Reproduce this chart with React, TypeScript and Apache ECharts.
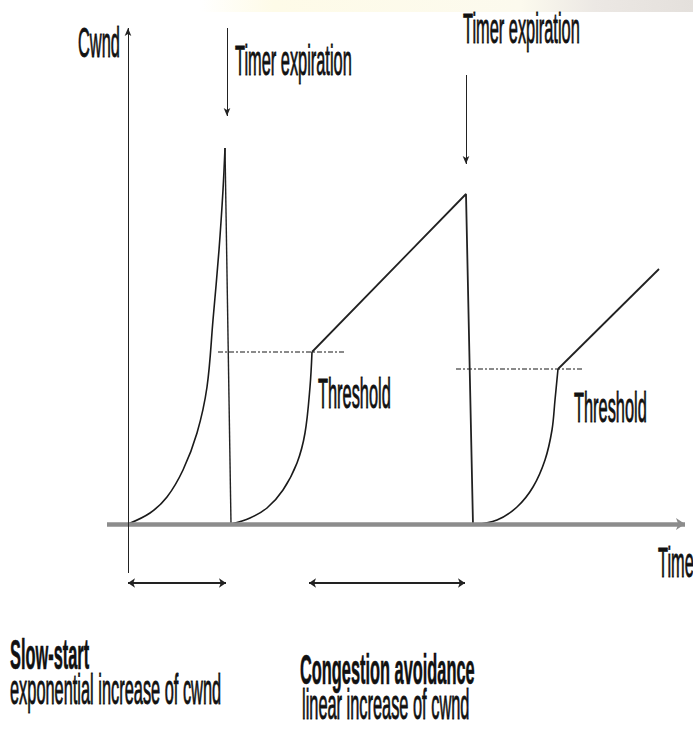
import React, { useEffect, useRef } from "react";
import * as echarts from "echarts";

// time (x) and cwnd (y) values
const slowStart1: number[][] = [[0, 0], [2.2, 1.1], [3.9, 2.7], [5.5, 5.4], [6.9, 9.1], [7.9, 13.7], [8.5, 20.4], [9.1, 27.4], [9.5, 33.4], [9.7, 37.6]];
const drop1: number[][] = [[9.7, 37.6], [10.3, 0]];
const slowStart2: number[][] = [[10.3, 0], [12.2, 0.6], [13.9, 1.6], [15.5, 3.4], [16.9, 6.1], [17.7, 9.1], [18.2, 13.7], [18.4, 17.2]];
const linear1: number[][] = [[18.4, 17.2], [33.8, 33.0], [34.5, -0.1]];
const slowStart3: number[][] = [[34.5, -0.1], [36.9, 0.4], [38.9, 1.7], [40.5, 3.7], [41.7, 6.4], [42.4, 9.4], [42.7, 12.4], [43.0, 15.5]];
const linear2: number[][] = [[43.0, 15.5], [53.1, 25.5]];
const threshold1: number[][] = [[9.0, 17.2], [21.7, 17.2]];
const threshold2: number[][] = [[32.8, 15.5], [45.5, 15.5]];
const timerArrows: number[][][] = [[[9.9, 49.6], [9.9, 40.8]], [[33.8, 44.9], [33.8, 36.0]]];
const spanArrows: number[][][] = [[[0, -5.9], [9.8, -5.9]], [[18.1, -5.9], [33.7, -5.9]]];
const yAxisLine: number[][] = [[0, -4.9], [0, 49.6]];
const xAxisLine: number[][] = [[-2.1, 0], [55.7, 0]];

const FONT = "Liberation Sans, Arial, sans-serif";
const SX = 0.39;

function label(text: string, x: number, y: number, bold = false) {
  return {
    type: "text",
    x,
    y,
    scaleX: SX,
    silent: true,
    style: {
      text,
      fill: "#111",
      stroke: "#111",
      lineWidth: bold ? 0.6 : 0.9,
      font: `${bold ? "bold " : ""}42px ${FONT}`,
      align: "left",
      verticalAlign: "middle",
    },
  };
}

export default function App() {
  const ref = useRef<HTMLDivElement>(null);
  useEffect(() => {
    if (!ref.current) return;
    const chart = echarts.init(ref.current, undefined, { renderer: "svg" });
    const curve = (data: number[][]) => ({
      type: "line",
      data,
      smooth: 0.35,
      showSymbol: false,
      silent: true,
      lineStyle: { color: "#1a1a1a", width: 1.6 },
    });
    const straight = (data: number[][], w = 1.8) => ({
      type: "line",
      data,
      showSymbol: false,
      silent: true,
      lineStyle: { color: "#222", width: w },
    });
    const dashed = (data: number[][]) => ({
      type: "line",
      data,
      showSymbol: false,
      silent: true,
      lineStyle: { color: "#8a8a8a", width: 2.2, type: [5, 2, 2, 2] },
    });
    const arrows = (pairs: number[][][], color: string, width: number, symbol: string[], size: number[]) => ({
      type: "line",
      data: [],
      silent: true,
      markLine: {
        silent: true,
        symbol,
        symbolSize: size,
        label: { show: false },
        emphasis: { disabled: true },
        lineStyle: { color, width, type: "solid" },
        data: pairs.map((p) => [{ coord: p[0] }, { coord: p[1] }]),
      },
    });
    chart.setOption({
      animation: false,
      backgroundColor: "#ffffff",
      grid: { left: 0, right: 0, top: 0, bottom: 0 },
      xAxis: { type: "value", min: -12.8, max: 56.5, show: false },
      yAxis: { type: "value", min: -20.5, max: 52.4, show: false },
      graphic: [
        {
          type: "rect",
          shape: { x: 200, y: 0, width: 493, height: 12 },
          silent: true,
          style: {
            fill: new echarts.graphic.LinearGradient(0, 0, 1, 0, [
              { offset: 0, color: "rgba(254,251,230,0)" },
              { offset: 0.15, color: "#fefbe8" },
              { offset: 0.65, color: "#fcfaee" },
              { offset: 0.8, color: "#ece8e4" },
              { offset: 1, color: "#e4e0dc" },
            ]),
          },
        },
        label("Cwnd", 78, 43),
        label("Timer expiration", 235, 61),
        label("Timer expiration", 463, 29),
        label("Threshold", 318, 394),
        label("Threshold", 574, 408),
        label("Time", 658, 563),
        label("Slow-start", 10, 655, true),
        label("exponential increase of cwnd", 10, 690),
        label("Congestion avoidance", 300, 670, true),
        label("linear increase of cwnd", 302, 705),
      ],
      series: [
        arrows([xAxisLine], "#8c8c8c", 4.5, ["none", "arrow"], [9, 9]),
        arrows([yAxisLine], "#222", 1, ["none", "arrow"], [5, 8]),
        arrows(timerArrows, "#222", 1, ["none", "arrow"], [5, 8]),
        arrows(spanArrows, "#222", 2, ["arrow", "arrow"], [7, 7]),
        dashed(threshold1),
        dashed(threshold2),
        curve(slowStart1),
        straight(drop1, 1.4),
        curve(slowStart2),
        straight(linear1),
        curve(slowStart3),
        straight(linear2),
      ],
    });
    return () => chart.dispose();
  }, []);
  return (
    <div
      ref={ref}
      style={{ position: "fixed", left: 0, top: 0, width: 693, height: 729, background: "#fff" }}
    />
  );
}
